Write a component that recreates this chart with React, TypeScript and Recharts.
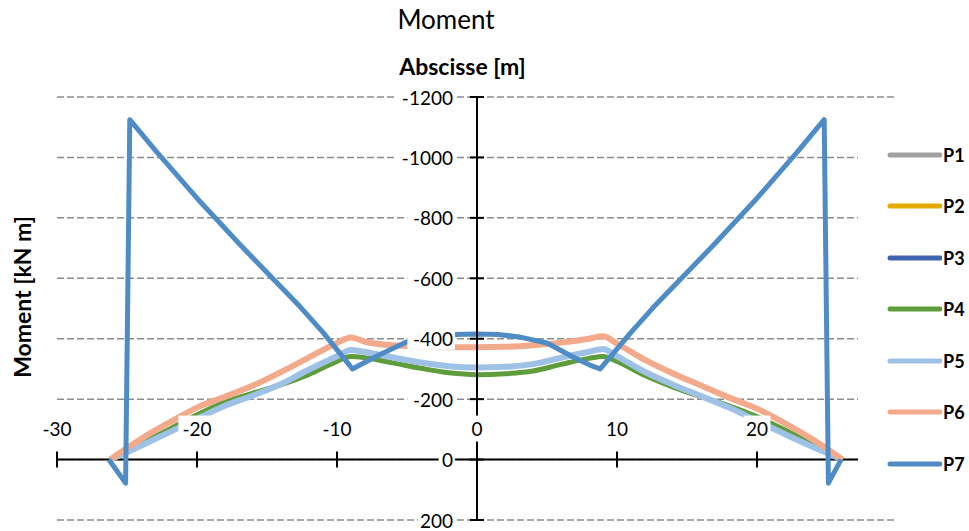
import {
  CartesianGrid,
  Legend,
  Line,
  LineChart,
  ReferenceDot,
  ReferenceLine,
  XAxis,
  YAxis,
} from "recharts";

const xTicks = [-30, -20, -10, 0, 10, 20, 30];
const yTicks = [-1200, -1000, -800, -600, -400, -200, 0, 200];

// abscissa shared by P4..P6 (m)
const abscissa = [
  -26.2, -25, -24, -22, -20, -18, -16, -14, -12, -10, -9, -8, -6, -4, -2, 0,
  2, 4, 6, 8, 9, 10, 12, 14, 16, 18, 20, 22, 24, 25, 26.1,
];
const p4Values = [
  0, -28, -52, -100, -148, -190, -220, -248, -282, -325, -341, -337, -320, -302, -287, -281,
  -284, -293, -315, -335, -341, -325, -278, -240, -208, -178, -142, -98, -50, -26, 0,
];
const p5Values = [
  0, -24, -46, -90, -135, -178, -212, -250, -298, -342, -363, -356, -338, -321, -309, -305,
  -307, -316, -337, -357, -366, -342, -290, -248, -210, -172, -128, -84, -42, -22, 0,
];
const p6Values = [
  0, -38, -68, -122, -172, -208, -245, -290, -338, -386, -404, -390, -378, -374, -372, -372,
  -373, -378, -387, -400, -408, -384, -330, -285, -245, -205, -168, -120, -66, -36, 0,
];

// P7 has its own abscissa (jumps at the supports)
const p7Abscissa = [
  -26.3, -25.1, -24.8, -22.9, -20, -17, -14, -12.6, -11, -8.9, -8, -7, -5, -3, -1.5, 0,
  1.5, 3, 5, 7, 8.1, 8.8, 11, 12.6, 14, 17, 20, 22.9, 24.8, 25.1, 26,
];
const p7Values = [
  0, 78, -1125, -1019, -865, -715, -571, -504, -421, -300, -322, -346, -390, -408, -414, -416,
  -414, -406, -386, -336, -312, -300, -421, -504, -571, -715, -865, -1019, -1125, 78, 0,
];

type Pt = { x: number; y: number };
const toPoints = (xs: number[], ys: number[]): Pt[] => xs.map((x, i) => ({ x, y: ys[i] }));

const series = [
  { name: "P1", color: "#a0a0a0", width: 5, data: [] as Pt[] },
  { name: "P2", color: "#e3ab00", width: 5, data: [] as Pt[] },
  { name: "P3", color: "#3f63ad", width: 5, data: [] as Pt[] },
  { name: "P4", color: "#5f9d3c", width: 5, data: toPoints(abscissa, p4Values) },
  { name: "P5", color: "#9ec1e6", width: 6, data: toPoints(abscissa, p5Values) },
  { name: "P6", color: "#f3aa8b", width: 6, data: toPoints(abscissa, p6Values) },
  { name: "P7", color: "#4f8cc5", width: 5, data: toPoints(p7Abscissa, p7Values) },
];

const FONT = "Lato, 'Open Sans', sans-serif";
const labelStyle = { fontFamily: FONT, fontSize: 19, fill: "#000" };

function renderLegend(props: any) {
  const payload = props.payload || [];
  return (
    <div style={{ background: "#fff" }}>
      {payload.map((p: any) => (
        <div key={p.value} style={{ display: "flex", alignItems: "center", height: 51.5 }}>
          <svg width={84} height={10}>
            <line x1={32} x2={82} y1={5} y2={5} stroke={p.color} strokeWidth={5} strokeLinecap="round" />
          </svg>
          <span style={{ fontFamily: FONT, fontWeight: 700, fontSize: 18, color: "#000", marginLeft: 1 }}>
            {p.value}
          </span>
        </div>
      ))}
    </div>
  );
}

export default function App() {
  return (
    <div style={{ position: "absolute", left: 0, top: 0, width: 969, height: 531, background: "#fff" }}>
      <div
        style={{
          position: "absolute",
          left: 0,
          width: 892,
          top: 3,
          textAlign: "center",
          fontFamily: FONT,
          fontSize: 26,
          color: "#000",
        }}
      >
        Moment
      </div>
      <div
        style={{
          position: "absolute",
          left: 0,
          width: 925,
          top: 52,
          textAlign: "center",
          fontFamily: FONT,
          fontWeight: 700,
          fontSize: 23,
          color: "#000",
        }}
      >
        Abscisse [m]
      </div>
      <div
        style={{
          position: "absolute",
          left: 22,
          top: 297,
          transform: "translate(-50%, -50%) rotate(-90deg)",
          whiteSpace: "nowrap",
          fontFamily: FONT,
          fontWeight: 700,
          fontSize: 23,
          color: "#000",
        }}
      >
        Moment [kN m]
      </div>
      <LineChart width={969} height={531} margin={{ top: 97, right: 72, bottom: 11, left: 57 }}>
        <XAxis type="number" dataKey="x" domain={[-30, 30]} ticks={xTicks} hide allowDataOverflow />
        <YAxis type="number" domain={[-1200, 200]} ticks={yTicks} reversed hide allowDataOverflow />
        <CartesianGrid
          vertical={false}
          horizontalValues={yTicks}
          stroke="#8c8c8c"
          strokeWidth={1.5}
          strokeDasharray="7 3"
        />
        <ReferenceLine y={0} stroke="#000" strokeWidth={2} />
        {xTicks.map((t) => (
          <ReferenceDot
            key={`xt${t}`}
            x={t}
            y={0}
            r={1}
            shape={(p: any) => (
              <line x1={p.cx} x2={p.cx} y1={p.cy - 8} y2={p.cy + 8} stroke="#000" strokeWidth={2} />
            )}
          />
        ))}
        {series.map((s) => (
          <Line
            key={s.name}
            data={s.data}
            dataKey="y"
            name={s.name}
            type={s.name === "P7" ? "linear" : "monotone"}
            stroke={s.color}
            strokeWidth={s.width}
            strokeLinejoin="round"
            dot={false}
            isAnimationActive={false}
          />
        ))}
        <ReferenceLine x={0} stroke="#000" strokeWidth={2} />
        {yTicks.map((t) => (
          <ReferenceDot
            key={`yt${t}`}
            x={0}
            y={t}
            r={1}
            shape={(p: any) => {
              const w = String(t).length * 10.4 + 6;
              return (
                <g>
                  <line x1={p.cx - 7} x2={p.cx + 7} y1={p.cy} y2={p.cy} stroke="#000" strokeWidth={2} />
                  <rect x={p.cx - 24 - w + 2} y={p.cy - 11} width={w} height={22} fill="#fff" />
                  <text x={p.cx - 24} y={p.cy} textAnchor="end" dominantBaseline="central" style={labelStyle}>
                    {t}
                  </text>
                </g>
              );
            }}
          />
        ))}
        {xTicks.map((t) => (
          <ReferenceDot
            key={`xl${t}`}
            x={t}
            y={0}
            r={1}
            shape={(p: any) => {
              const w = String(t).length * 10.4 + 6;
              return (
                <g>
                  <rect x={p.cx - w / 2} y={p.cy - 44} width={w} height={26} fill="#fff" />
                  <text x={p.cx} y={p.cy - 31} textAnchor="middle" dominantBaseline="central" style={labelStyle}>
                    {t}
                  </text>
                </g>
              );
            }}
          />
        ))}
        <Legend
          layout="horizontal"
          verticalAlign="middle"
          align="center"
          content={renderLegend}
          wrapperStyle={{ left: 858, top: 129, width: 111, height: 361, background: "#fff" }}
        />
      </LineChart>
    </div>
  );
}
